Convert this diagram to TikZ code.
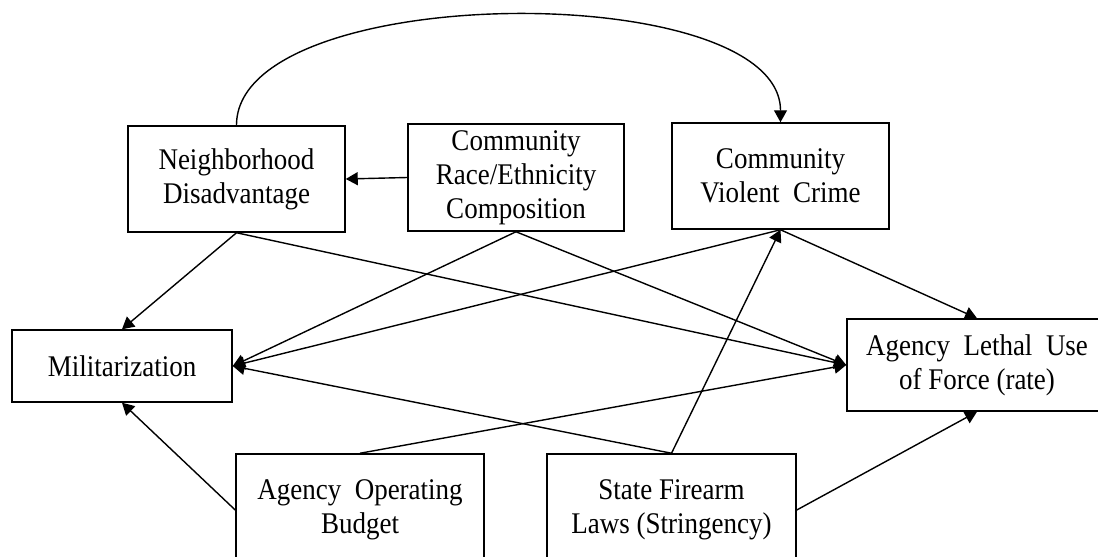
\documentclass[tikz,border=0pt]{standalone}
\usepackage{fontspec}
\setmainfont{Liberation Serif}[FakeStretch=0.9]
\usetikzlibrary{arrows.meta}

\begin{document}
\begin{tikzpicture}[>={Triangle[length=6pt,width=6.5pt]}, x=0.5pt, y=-0.5pt,
  var/.style={draw, line width=0.75pt, align=center, inner sep=0pt,
    font=\fontsize{15}{17}\selectfont},
  link/.style={->, line width=0.7pt}]
  %--- frame of the picture (units are pixels, y downwards)
  \useasboundingbox (0,0) rectangle (1098,557);

  %--- top row
  \node[var, minimum width=108.5pt, minimum height=53pt] (nbhd) at (236.5,179)
    {Neighborhood\\Disadvantage};
  \node[var, minimum width=108pt, minimum height=53.5pt] (race) at (516,177.5)
    {Community\\Race/Ethnicity\\Composition};
  \node[var, minimum width=108.5pt, minimum height=53pt] (crime) at (780.5,176)
    {Community\\Violent\ \ Crime};

  %--- middle row
  \node[var, minimum width=110pt, minimum height=36pt] (milit) at (122,366)
    {Militarization};
  \node[var, minimum width=130pt, minimum height=46pt] (lethal) at (977,365)
    {Agency\ \ Lethal\ \ Use\\of Force (rate)};

  %--- bottom row
  \node[var, minimum width=124pt, minimum height=56pt] (budget) at (360,510)
    {Agency\ \ Operating\\Budget};
  \node[var, minimum width=124.5pt, minimum height=56pt] (firearm) at (671.5,510)
    {State Firearm\\Laws (Stringency)};

  %--- paths
  \draw[link] (race.west) -- (nbhd.east);
  \draw[link] (nbhd.north) .. controls +(0,-145) and +(0,-145) .. (crime.north);
  \draw[link] (nbhd.south) -- (milit.north);
  \draw[link] (nbhd.south) -- (lethal.west);
  \draw[link] (race.south) -- (milit.east);
  \draw[link] (race.south) -- (lethal.west);
  \draw[link] (crime.south) -- (milit.east);
  \draw[link] (crime.south) -- (lethal.north);
  \draw[link] (firearm.north) -- (crime.south);
  \draw[link] (firearm.north) -- (milit.east);
  \draw[link] (firearm.east) -- (lethal.south);
  \draw[link] (budget.north) -- (lethal.west);
  \draw[link] (budget.west) -- (milit.south);

\end{tikzpicture}
\end{document}
